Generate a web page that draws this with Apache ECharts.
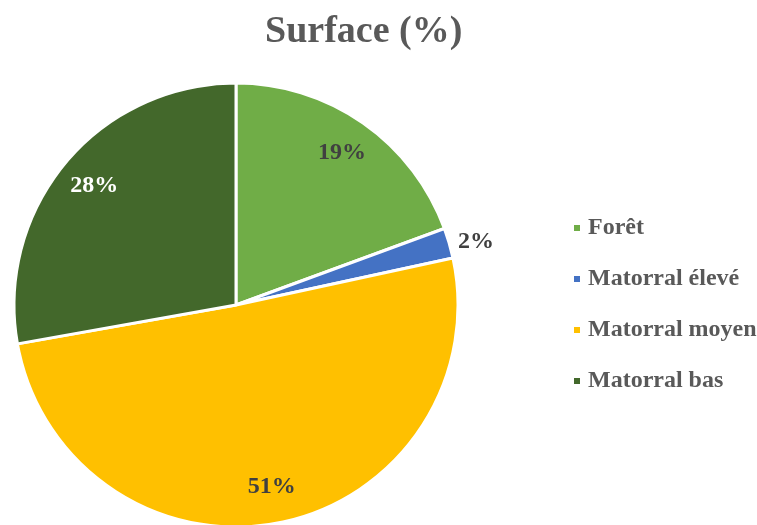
<!DOCTYPE html>
<html>
<head>
<meta charset="utf-8">
<script src="https://cdn.jsdelivr.net/npm/echarts@6/dist/echarts.min.js"></script>
<style>html,body{margin:0;padding:0;background:#fff}#c{width:757px;height:525px}</style>
</head>
<body>
<div id="c"></div>
<script>
var categories = ['Forêt', 'Matorral élevé', 'Matorral moyen', 'Matorral bas'];
var values = [19.4, 2.2, 50.6, 27.8];
var colors = ['#70AD47', '#4472C4', '#FFC000', '#43682B'];
var labelColors = ['#404040', '#404040', '#404040', '#FFFFFF'];
var outsideLabel = [false, true, false, false];

var font = '"Liberation Serif", "Times New Roman", serif';
var chart = echarts.init(document.getElementById('c'));
var center = [236, 305];
var R = 222;

chart.setOption({
  animation: false,
  title: {
    text: 'Surface (%)',
    left: 265, top: 13, padding: 0,
    textStyle: { fontFamily: font, fontWeight: 'bold', fontSize: 38, color: '#595959' }
  },
  legend: {
    data: categories,
    orient: 'vertical',
    left: 572, top: 216, padding: 0,
    icon: 'rect', itemWidth: 8, itemHeight: 8,
    itemGap: 27,
    textStyle: { fontFamily: font, fontWeight: 'bold', fontSize: 24, lineHeight: 24, color: '#595959', padding: [0, 0, 0, 2] }
  },
  series: [
    {
      type: 'pie',
      center: center, radius: [0, R],
      startAngle: 90, clockwise: true,
      label: { show: false }, labelLine: { show: false },
      itemStyle: { borderColor: '#fff', borderWidth: 3 },
      emphasis: { disabled: true },
      data: categories.map(function (n, i) {
        return { name: n, value: values[i], itemStyle: { color: colors[i] } };
      })
    },
    {
      type: 'pie',
      center: center, radius: [R * 0.64, R],
      startAngle: 90, clockwise: true, silent: true,
      itemStyle: { color: 'rgba(0,0,0,0)' },
      emphasis: { disabled: true },
      labelLine: { show: false, length: 4, length2: 5 },
      data: categories.map(function (n, i) {
        return {
          name: n, value: values[i],
          label: {
            show: true,
            position: outsideLabel[i] ? 'outside' : 'inside',
            distanceToLabelLine: 0,
            formatter: Math.round(values[i]) + '%',
            fontFamily: font, fontWeight: 'bold', fontSize: 24,
            color: labelColors[i]
          }
        };
      })
    }
  ]
});
</script>
</body>
</html>
